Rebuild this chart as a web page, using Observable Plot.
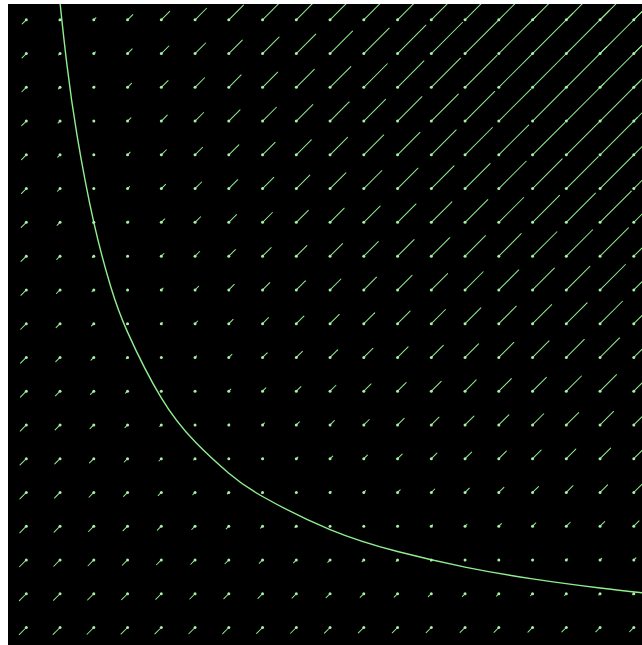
<!DOCTYPE html>
<html>
<head>
<meta charset="utf-8">
<script src="https://cdn.jsdelivr.net/npm/d3@7"></script>
<script src="https://cdn.jsdelivr.net/npm/@observablehq/plot@0.6"></script>
<style>
  html, body { margin: 0; padding: 0; background: #fff; overflow: hidden; }
  #chart { position: absolute; left: 8px; top: 4px; }
  #chart svg { display: block; }
</style>
</head>
<body>
<div id="chart"></div>
<script>
// Grid positions (data units)
const gridX = [1,2,3,4,5,6,7,8,9,10,11,12,13,14,15,16,17,18,19];
const gridY = [19,18,17,16,15,14,13,12,11,10,9,8,7,6,5,4,3,2,1];

// Signed vector magnitudes (rows: gridY, cols: gridX).
// Positive = pointing up-right, negative = pointing down-left.
const fieldValues = [
  [-25,-6,13,32,51,70,89,108,127,146,165,184,203,222,241,260,279,298,317],
  [-26,-8,10,28,46,64,82,100,118,136,154,172,190,208,226,244,262,280,298],
  [-27,-10,7,24,41,58,75,92,109,126,143,160,177,194,211,228,245,262,279],
  [-28,-12,4,20,36,52,68,84,100,116,132,148,164,180,196,212,228,244,260],
  [-29,-14,1,16,31,46,61,76,91,106,121,136,151,166,181,196,211,226,241],
  [-30,-16,-2,12,26,40,54,68,82,96,110,124,138,152,166,180,194,208,222],
  [-31,-18,-5,8,21,34,47,60,73,86,99,112,125,138,151,164,177,190,203],
  [-32,-20,-8,4,16,28,40,52,64,76,88,100,112,124,136,148,160,172,184],
  [-33,-22,-11,0,11,22,33,44,55,66,77,88,99,110,121,132,143,154,165],
  [-34,-24,-14,-4,6,16,26,36,46,56,66,76,86,96,106,116,126,136,146],
  [-35,-26,-17,-8,1,10,19,28,37,46,55,64,73,82,91,100,109,118,127],
  [-36,-28,-20,-12,-4,4,12,20,28,36,44,52,60,68,76,84,92,100,108],
  [-37,-30,-23,-16,-9,-2,5,12,19,26,33,40,47,54,61,68,75,82,89],
  [-38,-32,-26,-20,-14,-8,-2,4,10,16,22,28,34,40,46,52,58,64,70],
  [-39,-34,-29,-24,-19,-14,-9,-4,1,6,11,16,21,26,31,36,41,46,51],
  [-40,-36,-32,-28,-24,-20,-16,-12,-8,-4,0,4,8,12,16,20,24,28,32],
  [-41,-38,-35,-32,-29,-26,-23,-20,-17,-14,-11,-8,-5,-2,1,4,7,10,13],
  [-42,-40,-38,-36,-34,-32,-30,-28,-26,-24,-22,-20,-18,-16,-14,-12,-10,-8,-6],
  [-43,-42,-41,-40,-39,-38,-37,-36,-35,-34,-33,-32,-31,-30,-29,-28,-27,-26,-25]
];

// Curve points
const curveX = [1.9, 2.0, 2.2, 2.5, 3.0, 3.5, 4.0, 5.0, 6.0, 7.0, 8.0, 10.0, 12.0, 14.0, 16.0, 18.0, 19.5];
const curveY = [20.5, 19.5, 17.7, 15.6, 13.0, 11.1, 9.75, 7.8, 6.5, 5.57, 4.88, 3.9, 3.25, 2.79, 2.44, 2.17, 2.0];

const field = [];
gridY.forEach((y, r) => gridX.forEach((x, c) => field.push({x, y, v: fieldValues[r][c]})));
const curve = curveX.map((x, i) => ({x, y: curveY[i]}));

const green = "#90ee90";
const lineShape = {
  draw(context, l) {
    context.moveTo(0, 0);
    context.lineTo(0, -l);
  }
};

const chart = Plot.plot({
  width: 634,
  height: 641,
  marginLeft: 17.8,
  marginRight: 8.7,
  marginTop: 15.3,
  marginBottom: 18,
  style: {background: "black"},
  x: {domain: [1, 19], axis: null},
  y: {domain: [1, 19], axis: null},
  length: {domain: [0, 100], range: [0, 23.3]},
  marks: [
    Plot.line(curve, {x: "x", y: "y", stroke: green, strokeWidth: 1.4, curve: "natural"}),
    Plot.vector(field, {
      x: "x", y: "y",
      length: d => Math.abs(d.v),
      rotate: d => d.v >= 0 ? 45 : 225,
      anchor: "start",
      shape: lineShape,
      stroke: green,
      strokeWidth: 1
    }),
    Plot.dot(field, {x: "x", y: "y", r: 1.5, fill: "#a8f0a8", stroke: "none"})
  ]
});
document.getElementById("chart").append(chart);
</script>
</body>
</html>
